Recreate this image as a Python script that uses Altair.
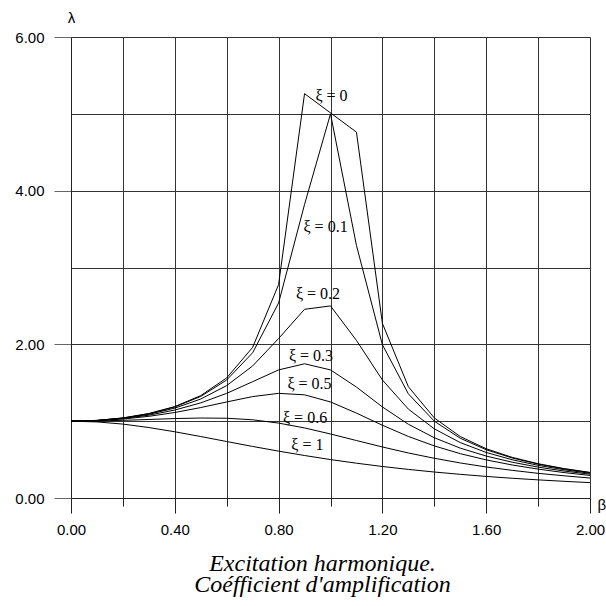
import altair as alt
import pandas as pd

beta = [0.0, 0.1, 0.2, 0.3, 0.4, 0.5, 0.6, 0.7, 0.8, 0.9, 1.0,
        1.1, 1.2, 1.3, 1.4, 1.5, 1.6, 1.7, 1.8, 1.9, 2.0]

curve_names = ["0", "0.1", "0.2", "0.3", "0.5", "0.6", "1"]
lam_0 = [1.000, 1.010, 1.042, 1.099, 1.190, 1.333, 1.563, 1.961, 2.778, 5.263, None,
         4.762, 2.273, 1.449, 1.042, 0.800, 0.641, 0.529, 0.446, 0.383, 0.333]
lam_01 = [1.000, 1.010, 1.041, 1.097, 1.185, 1.322, 1.536, 1.891, 2.538, 3.821, 5.000,
          3.288, 1.995, 1.356, 1.000, 0.778, 0.628, 0.521, 0.441, 0.379, 0.330]
lam_02 = [1.000, 1.009, 1.038, 1.089, 1.170, 1.288, 1.463, 1.719, 2.076, 2.456, 2.500,
          2.051, 1.536, 1.157, 0.900, 0.721, 0.593, 0.498, 0.425, 0.368, 0.322]
lam_03 = [1.000, 1.008, 1.034, 1.078, 1.145, 1.238, 1.362, 1.514, 1.667, 1.747, 1.667,
          1.444, 1.185, 0.960, 0.784, 0.649, 0.546, 0.466, 0.402, 0.351, 0.310]
lam_05 = [1.000, 1.007, 1.028, 1.063, 1.113, 1.177, 1.250, 1.320, 1.362, 1.343, 1.250,
          1.105, 0.947, 0.801, 0.678, 0.577, 0.496, 0.430, 0.376, 0.331, 0.294]
lam_06 = [1.000, 1.003, 1.011, 1.022, 1.034, 1.041, 1.038, 1.018, 0.975, 0.912, 0.833,
          0.748, 0.664, 0.586, 0.517, 0.456, 0.404, 0.360, 0.321, 0.289, 0.260]
lam_1 = [1.000, 0.990, 0.962, 0.917, 0.862, 0.800, 0.735, 0.671, 0.610, 0.553, 0.500,
         0.453, 0.410, 0.372, 0.338, 0.308, 0.281, 0.257, 0.236, 0.217, 0.200]
curves = [lam_0, lam_01, lam_02, lam_03, lam_05, lam_06, lam_1]

label_text = ["ξ = 0", "ξ = 0.1", "ξ = 0.2", "ξ = 0.3", "ξ = 0.5", "ξ = 0.6", "ξ = 1"]
label_beta = [1.004, 0.981, 0.952, 0.925, 0.919, 0.902, 0.911]
label_lam = [5.23, 3.53, 2.655, 1.848, 1.484, 1.041, 0.69]

x_ticks = [0.0, 0.2, 0.4, 0.6, 0.8, 1.0, 1.2, 1.4, 1.6, 1.8, 2.0]
y_ticks = [0, 1, 2, 3, 4, 5, 6]

rows = []
for name, vals in zip(curve_names, curves):
    for b, v in zip(beta, vals):
        if v is not None:
            rows.append({"xi": name, "beta": b, "lam": v})
df = pd.DataFrame(rows)
labels = pd.DataFrame({"t": label_text, "beta": label_beta, "lam": label_lam})

xscale = alt.Scale(domain=[0, 2], nice=False, zero=False)
yscale = alt.Scale(domain=[0, 6], nice=False, zero=False)

xaxis = alt.Axis(
    values=x_ticks,
    labelExpr="round(datum.value*10) % 4 == 0 ? format(datum.value, '.2f') : ''",
    tickSize=alt.condition("round(datum.value*10) % 4 == 0", alt.value(15), alt.value(8)),
    grid=True, gridColor="#333333", gridWidth=1, gridOpacity=1,
    tickColor="#222222", domainColor="#222222", domainWidth=1.2,
    labelFont="Liberation Sans", labelFontSize=15, labelColor="black",
    labelPadding=9, labelFlush=False,
    title="β", titleFont="Liberation Sans", titleFontSize=15, titleFontWeight="normal",
    titleColor="black", titleX=526, titleY=6, titleAlign="left", titleBaseline="middle",
)
yaxis = alt.Axis(
    values=y_ticks,
    labelExpr="round(datum.value) % 2 == 0 ? format(datum.value, '.2f') : ''",
    tickSize=alt.condition("round(datum.value) % 2 == 0", alt.value(17), alt.value(0)),
    grid=True, gridColor="#333333", gridWidth=1, gridOpacity=1,
    tickColor="#666666", domainColor="#222222",
    labelFont="Liberation Sans", labelFontSize=15, labelColor="black",
    labelPadding=10,
    title="λ", titleFont="Liberation Sans", titleFontSize=15, titleFontWeight="normal",
    titleColor="black", titleAngle=0, titleX=0, titleY=-20,
    titleAlign="center", titleBaseline="middle",
)

lines = alt.Chart(df).mark_line(color="black", strokeWidth=1).encode(
    x=alt.X("beta:Q", scale=xscale, axis=xaxis),
    y=alt.Y("lam:Q", scale=yscale, axis=yaxis),
    detail="xi:N",
    order="beta:Q",
)

texts = alt.Chart(labels).mark_text(
    font="Liberation Serif", fontSize=16, color="black", align="center", baseline="middle"
).encode(
    x=alt.X("beta:Q", scale=xscale),
    y=alt.Y("lam:Q", scale=yscale),
    text="t:N",
)

chart = alt.layer(lines, texts).properties(
    width=519, height=461,
    autosize=alt.AutoSizeParams(type="none"),
    padding={"left": 71, "top": 37, "right": 16, "bottom": 108},
    title=alt.TitleParams(
        text=["Excitation harmonique.", "Coéfficient d'amplification"],
        orient="bottom", anchor="middle", dx=-8, offset=15,
        font="Liberation Serif", fontStyle="italic", fontWeight="normal",
        fontSize=24, lineHeight=21, color="black",
    ),
).configure_view(strokeWidth=0)

chart.save("out.html", embed_options={"renderer": "svg", "actions": False})
